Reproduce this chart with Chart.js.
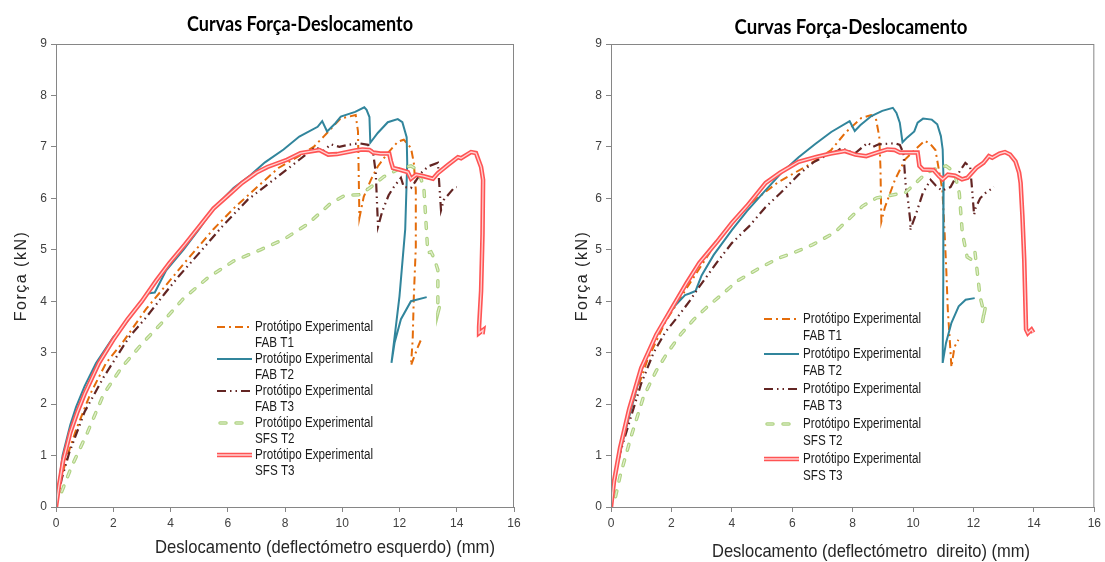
<!DOCTYPE html>
<html>
<head>
<meta charset="utf-8">
<script src="https://cdn.jsdelivr.net/npm/chart.js@4.4.1/dist/chart.umd.min.js"></script>
<style>
  html, body { margin: 0; padding: 0; background: #fff; }
  #wrap { position: relative; width: 1105px; height: 562px; }
  #c1 { position: absolute; left: 0; top: 0; }
  #c2 { position: absolute; left: 552px; top: 0; }
</style>
</head>
<body>
<div id="wrap">
  <canvas id="c1" width="552" height="562"></canvas>
  <canvas id="c2" width="553" height="562"></canvas>
</div>
<script>
// axis ranges
const xMin = 0, xMax = 16, xStep = 2;
const yMin = 0, yMax = 9, yStep = 1;

const chartTitle = "Curvas Força-Deslocamento";
const yTitle = "Força (kN)";
const xTitleLeft = "Deslocamento (deflectómetro esquerdo) (mm)";
const xTitleRight = "Deslocamento (deflectómetro  direito) (mm)";
const legendLine1 = "Protótipo Experimental";
const seriesNames = ["FAB T1", "FAB T2", "FAB T3", "SFS T2", "SFS T3"];

// left chart (deflectómetro esquerdo): [deslocamento mm, força kN]
const esqFabT1 = [[0,0],[0.15,0.5],[0.4,1.0],[0.7,1.5],[1.2,2.2],[1.75,2.8],[2.33,3.2],[3.15,3.85],[3.6,4.15],[4.45,4.72],[5.5,5.4],[6.2,5.8],[6.79,6.1],[7.77,6.59],[8.54,6.84],[9.0,7.0],[9.35,7.2],[9.94,7.55],[10.47,7.62],[10.55,7.3],[10.6,5.62],[10.75,6.03],[11.0,6.36],[11.24,6.62],[11.59,6.88],[11.94,7.1],[12.15,7.14],[12.4,6.98],[12.5,6.69],[12.57,6.16],[12.57,5.06],[12.5,4.08],[12.46,3.25],[12.4,2.75],[12.64,3.11],[12.75,3.25]];
const esqFabT2 = [[0,0],[0.1,0.45],[0.23,1.0],[0.5,1.6],[0.7,1.94],[1.0,2.35],[1.4,2.8],[2.0,3.3],[2.35,3.5],[2.8,3.85],[3.2,4.15],[3.45,4.17],[3.85,4.6],[4.45,5.0],[5.0,5.4],[5.5,5.8],[6.2,6.2],[6.79,6.45],[7.3,6.7],[7.95,6.95],[8.5,7.2],[9.14,7.39],[9.3,7.5],[9.47,7.3],[9.76,7.46],[9.95,7.59],[10.45,7.68],[10.77,7.77],[10.85,7.72],[10.95,7.58],[10.98,7.08],[11.24,7.27],[11.59,7.48],[11.94,7.54],[12.1,7.48],[12.25,7.19],[12.27,6.69],[12.2,5.4],[12.0,4.1],[11.72,2.8],[11.83,3.2],[12.05,3.65],[12.4,4.0],[12.95,4.08]];
const esqFabT3 = [[0,0],[0.2,0.55],[0.46,1.05],[1.0,1.85],[1.67,2.53],[2.55,3.3],[3.17,3.7],[3.8,4.15],[4.31,4.5],[5.04,4.96],[5.8,5.45],[6.69,5.97],[7.74,6.42],[8.5,6.75],[9.07,7.0],[9.32,6.91],[9.6,7.05],[9.9,7.0],[10.2,7.04],[10.6,7.07],[10.9,7.04],[11.08,6.88],[11.17,6.5],[11.2,6.1],[11.25,5.45],[11.4,5.75],[11.62,6.06],[11.8,6.22],[12.05,6.4],[12.15,6.22],[12.4,6.2],[12.75,6.49],[13.0,6.62],[13.34,6.69],[13.38,6.36],[13.45,5.77],[13.55,5.97],[13.9,6.2],[14.0,6.22]];
const esqSfsT2 = [[0.2,0.3],[0.54,0.78],[1.1,1.45],[1.67,2.2],[2.3,2.72],[3.05,3.2],[3.68,3.57],[4.45,4.05],[5.29,4.45],[6.2,4.78],[7.14,5.0],[7.95,5.2],[8.79,5.5],[9.59,5.9],[10.1,6.06],[10.64,6.07],[11.0,6.22],[11.45,6.42],[12.05,6.59],[12.4,6.63],[12.64,6.55],[12.85,6.22],[12.92,5.58],[12.99,4.94],[13.1,4.96],[13.2,4.85],[13.34,4.61],[13.34,4.08],[13.34,3.77],[13.4,3.9]];
const esqSfsT3 = [[0,0],[0.1,0.4],[0.25,0.9],[0.5,1.45],[0.75,1.85],[1.0,2.2],[1.5,2.8],[2.0,3.25],[2.5,3.65],[3.0,4.0],[3.5,4.4],[3.96,4.74],[4.5,5.1],[5.0,5.45],[5.5,5.8],[6.0,6.05],[6.5,6.3],[7.0,6.5],[7.39,6.61],[8.07,6.75],[8.54,6.88],[9.2,6.94],[9.51,6.85],[9.82,6.86],[10.45,6.93],[10.7,6.95],[10.95,6.94],[11.08,6.89],[11.33,6.87],[11.64,6.87],[11.7,6.72],[11.77,6.59],[12.05,6.55],[12.29,6.51],[12.4,6.38],[12.58,6.46],[12.84,6.43],[13.17,6.38],[13.34,6.49],[13.69,6.65],[14.04,6.8],[14.15,6.78],[14.5,6.9],[14.67,6.88],[14.85,6.61],[14.92,6.36],[14.9,5.3],[14.85,4.2],[14.78,3.5],[14.78,3.38],[14.92,3.44],[14.9,3.36]];

// right chart (deflectómetro direito)
const dirFabT1 = [[0,0],[0.1,0.5],[0.3,1.1],[0.7,2.0],[1.2,2.85],[1.8,3.6],[2.5,4.25],[3.0,4.7],[3.6,5.25],[4.5,5.85],[5.5,6.3],[6.54,6.65],[7.29,6.94],[7.75,7.27],[8.28,7.56],[8.61,7.62],[8.77,7.55],[8.88,7.2],[8.92,6.6],[8.95,5.55],[9.07,5.83],[9.4,6.36],[9.74,6.76],[10.09,6.96],[10.39,7.12],[10.58,7.05],[10.74,6.94],[10.97,6.16],[11.04,5.38],[11.1,4.6],[11.15,3.83],[11.2,3.38],[11.27,2.72],[11.37,3.11],[11.5,3.25]];
const dirFabT2 = [[0,0],[0.08,0.4],[0.22,0.85],[0.4,1.3],[0.66,1.89],[1.08,2.8],[1.4,3.25],[1.74,3.6],[2.1,3.9],[2.45,4.12],[2.6,4.15],[2.8,4.2],[3.0,4.5],[3.4,4.9],[4.0,5.38],[4.5,5.75],[5.12,6.16],[5.65,6.5],[6.21,6.8],[6.75,7.05],[7.29,7.29],[7.9,7.5],[8.07,7.31],[8.25,7.42],[8.62,7.6],[8.98,7.7],[9.33,7.76],[9.45,7.66],[9.56,7.47],[9.65,7.09],[9.8,7.18],[10.04,7.3],[10.15,7.47],[10.33,7.55],[10.62,7.53],[10.8,7.44],[10.92,7.21],[10.98,6.95],[11.01,6.3],[11.0,4.4],[10.98,2.8],[11.09,3.19],[11.27,3.58],[11.51,3.9],[11.74,4.03],[12.04,4.06]];
const dirFabT3 = [[0,0],[0.1,0.45],[0.3,1.05],[0.66,1.75],[1.0,2.4],[1.41,3.0],[1.8,3.4],[2.2,3.69],[2.6,4.0],[2.92,4.28],[3.5,4.75],[4.0,5.13],[4.56,5.45],[5.12,5.83],[5.62,6.11],[6.21,6.46],[6.7,6.7],[7.15,6.84],[7.52,6.93],[7.62,6.98],[7.85,6.92],[8.09,6.88],[8.5,7.08],[8.68,7.0],[8.86,7.05],[9.1,7.06],[9.4,7.07],[9.56,7.04],[9.68,6.88],[9.76,6.22],[9.82,6.03],[9.86,5.81],[9.92,5.5],[9.9,5.38],[10.1,5.7],[10.32,6.1],[10.58,6.36],[10.75,6.25],[10.95,6.15],[11.24,6.22],[11.37,6.36],[11.57,6.55],[11.73,6.69],[11.89,6.61],[11.95,6.2],[12.02,5.68],[12.07,5.81],[12.22,6.0],[12.39,6.1],[12.68,6.22]];
const dirSfsT2 = [[0.15,0.2],[0.3,0.6],[0.66,1.36],[1.08,2.15],[1.5,2.65],[1.87,3.0],[2.3,3.35],[2.73,3.64],[3.2,3.9],[3.61,4.1],[4.2,4.4],[4.93,4.65],[5.6,4.85],[6.0,4.93],[6.68,5.1],[7.39,5.33],[7.86,5.59],[8.33,5.85],[8.8,6.01],[9.09,6.04],[9.45,6.08],[9.74,6.11],[10.09,6.3],[10.45,6.5],[10.81,6.59],[11.09,6.63],[11.37,6.51],[11.53,6.1],[11.63,5.33],[11.79,4.86],[11.96,4.8],[12.05,4.95],[12.22,4.08],[12.35,3.77],[12.29,3.58],[12.4,3.9]];
const dirSfsT3 = [[0,0],[0.1,0.5],[0.3,1.15],[0.6,1.9],[1.0,2.7],[1.5,3.35],[2.0,3.85],[2.5,4.35],[2.92,4.74],[3.5,5.15],[4.0,5.52],[4.5,5.85],[5.12,6.3],[5.6,6.5],[6.21,6.71],[6.77,6.8],[7.27,6.87],[7.74,6.92],[8.09,6.85],[8.45,6.82],[8.8,6.89],[9.15,6.95],[9.39,6.94],[9.56,6.89],[10.15,6.89],[10.21,6.63],[10.33,6.56],[10.68,6.55],[10.86,6.43],[10.98,6.37],[11.15,6.46],[11.39,6.44],[11.62,6.37],[11.8,6.4],[12.09,6.59],[12.33,6.69],[12.51,6.82],[12.62,6.79],[12.86,6.87],[13.04,6.9],[13.21,6.85],[13.39,6.72],[13.51,6.5],[13.56,6.3],[13.62,5.65],[13.68,4.81],[13.74,3.45],[13.8,3.38],[13.92,3.45],[13.98,3.39]];

const gridColor = "#868686";
const tickFont = { family: '"Liberation Sans", Arial, sans-serif', size: 12 };
const sansFont = '"Liberation Sans", Arial, sans-serif';

// line looks, one per series; the double lines get a pale inner stroke
const styles = [
  { color: "#E46C0A", width: 2, dash: [8, 4, 2, 4] },
  { color: "#31859C", width: 2, dash: [] },
  { color: "#632523", width: 2.2, dash: [9, 4, 1.5, 4, 1.5, 4] },
  { color: "#AFD282", width: 3.5, dash: [6, 10], cap: "round", inner: "#E2EFCF", innerWidth: 1.2 },
  { color: "#FF5454", width: 4.5, dash: [], inner: "#FFD3D3", innerWidth: 1.3 },
];

const toPts = (arr) => arr.map(([x, y]) => ({ x, y }));

function buildSets(series) {
  const sets = [];
  const orders = [6, 5, 4, 3, 1];
  series.forEach((s, i) => {
    const st = styles[i];
    const base = {
      label: seriesNames[i],
      data: toPts(s),
      borderColor: st.color,
      borderWidth: st.width,
      borderDash: st.dash,
      borderCapStyle: st.cap || "butt",
      showLine: true,
      pointRadius: 0,
      tension: 0,
      fill: false,
      order: orders[i] + 1,
    };
    sets.push(base);
    if (st.inner) {
      sets.push({ ...base, label: seriesNames[i] + " inner", borderColor: st.inner, borderWidth: st.innerWidth, order: orders[i] });
    }
  });
  return sets;
}

// squeeze text horizontally, the original uses narrow fonts
function squeezed(ctx, text, x, y, sx) {
  ctx.save();
  ctx.translate(x, y);
  ctx.scale(sx, 1);
  ctx.fillText(text, 0, 0);
  ctx.restore();
}

const decor = {
  id: "decor",
  afterDraw(chart, args, opts) {
    const { ctx, chartArea: a } = chart;
    ctx.save();
    // plot frame
    ctx.strokeStyle = gridColor;
    ctx.lineWidth = 1;
    ctx.setLineDash([]);
    ctx.strokeRect(a.left + 0.5, a.top + 0.5, a.right - a.left - 1, a.bottom - a.top);

    ctx.textBaseline = "middle";
    ctx.textAlign = "center";

    // title
    ctx.fillStyle = "#000";
    ctx.font = "bold 20px Lato, " + sansFont;
    squeezed(ctx, chartTitle, opts.titleX, opts.titleY, opts.titleW / ctx.measureText(chartTitle).width);

    // axis titles
    ctx.fillStyle = "#262626";
    ctx.font = "19px " + sansFont;
    squeezed(ctx, opts.xTitle, opts.xTitleX, opts.xTitleY, opts.xTitleW / ctx.measureText(opts.xTitle).width);
    ctx.save();
    ctx.translate(opts.yTitleX, opts.yTitleY);
    ctx.rotate(-Math.PI / 2);
    ctx.font = "16px " + sansFont;
    if ("letterSpacing" in ctx) ctx.letterSpacing = "1.5px";
    ctx.fillText(yTitle, 0, 0);
    ctx.restore();

    // legend, two text lines per entry
    const L = opts.legend;
    ctx.textAlign = "left";
    ctx.font = "14px " + sansFont;
    const lsx = L.textW / ctx.measureText(legendLine1).width;
    styles.forEach((st, i) => {
      const y = L.top + i * L.step;
      ctx.lineCap = st.cap || "butt";
      ctx.setLineDash(st.dash);
      ctx.strokeStyle = st.color;
      ctx.lineWidth = st.width;
      ctx.beginPath();
      ctx.moveTo(L.x0 + (st.cap ? 3 : 0), y);
      ctx.lineTo(L.x1, y);
      ctx.stroke();
      if (st.inner) {
        ctx.strokeStyle = st.inner;
        ctx.lineWidth = st.innerWidth;
        ctx.stroke();
      }
      ctx.setLineDash([]);
      ctx.fillStyle = "#1a1a1a";
      squeezed(ctx, legendLine1, L.tx, y, lsx);
      squeezed(ctx, seriesNames[i], L.tx, y + L.gap, lsx);
    });
    ctx.restore();
  },
};

function makeChart(id, series, pad, yWidth, decorOpts) {
  return new Chart(document.getElementById(id), {
    type: "scatter",
    data: { datasets: buildSets(series) },
    plugins: [decor],
    options: {
      responsive: false,
      animation: false,
      devicePixelRatio: 1,
      events: [],
      layout: { padding: pad },
      plugins: {
        legend: { display: false },
        tooltip: { enabled: false },
        decor: decorOpts,
      },
      scales: {
        x: {
          type: "linear",
          min: xMin,
          max: xMax,
          ticks: { stepSize: xStep, color: "#404040", font: tickFont, padding: 4, maxRotation: 0, autoSkip: false },
          grid: { drawOnChartArea: false, drawTicks: true, tickLength: 5, color: gridColor },
          border: { display: true, color: gridColor },
          afterFit: (s) => { s.height = 55; },
        },
        y: {
          type: "linear",
          min: yMin,
          max: yMax,
          ticks: { stepSize: yStep, color: "#404040", font: tickFont, padding: 4 },
          grid: { drawOnChartArea: false, drawTicks: true, tickLength: 5, color: gridColor },
          border: { display: true, color: gridColor },
          afterFit: (s) => { s.width = yWidth; },
        },
      },
    },
  });
}

makeChart("c1", [esqFabT1, esqFabT2, esqFabT3, esqSfsT2, esqSfsT3],
  { left: 0, top: 44, right: 38, bottom: 0 }, 56,
  {
    titleX: 300, titleY: 25, titleW: 226,
    xTitle: xTitleLeft, xTitleX: 325, xTitleY: 548, xTitleW: 340,
    yTitleX: 22, yTitleY: 276,
    legend: { x0: 217, x1: 252, tx: 255, textW: 118, top: 327, step: 32, gap: 16 },
  });

makeChart("c2", [dirFabT1, dirFabT2, dirFabT3, dirSfsT2, dirSfsT3],
  { left: 0, top: 44, right: 7, bottom: 0 }, 59,
  {
    titleX: 299, titleY: 28, titleW: 233,
    xTitle: xTitleRight, xTitleX: 319, xTitleY: 552, xTitleW: 318,
    yTitleX: 31, yTitleY: 276,
    legend: { x0: 212, x1: 247, tx: 251, textW: 118, top: 319, step: 35, gap: 17 },
  });
</script>
</body>
</html>
